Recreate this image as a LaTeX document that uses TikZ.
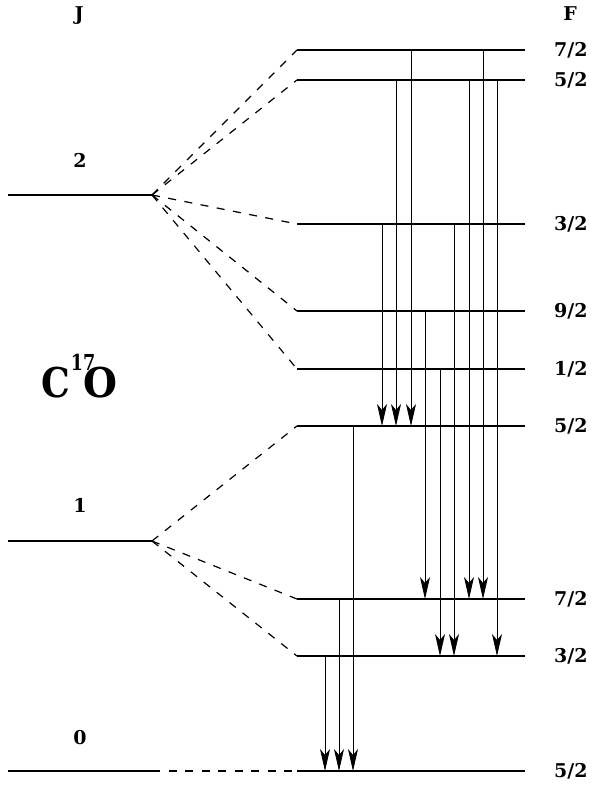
\documentclass[tikz,border=0pt]{standalone}
\usepackage{fontspec}
\setmainfont{DejaVu Serif}
\usetikzlibrary{arrows.meta}
\begin{document}
\begin{tikzpicture}[x=1pt,y=-1pt,
  level/.style={line width=2.5pt},
  conn/.style={line width=1.2pt,dash pattern=on 8pt off 8.5pt},
  trans/.style={line width=0.8pt,-{Stealth[length=22pt,width=10pt,inset=6pt]}},
  lab/.style={font=\fontsize{19}{22}\selectfont\bfseries,inner sep=0pt},
  flab/.style={lab,anchor=west},
  mol/.style={inner sep=0pt,anchor=base west}]
\useasboundingbox (0,0) rectangle (592,785);
% left J levels
\coordinate (j2a) at (8,195);  \coordinate (j2) at (152,195);
\coordinate (j1a) at (8,541);  \coordinate (j1) at (152,541);
\coordinate (j0a) at (8,771);  \coordinate (j0) at (152,771);
% right F levels
\foreach \n/\y in {u72/50,u52/80,u32/224,u92/311,u12/369,m52/426,m72/599,m32/656,l52/771}{
  \coordinate (\n) at (297,\y);
  \coordinate (\n e) at (525,\y);
}
\foreach \a in {j2,j1,j0}{\draw[level] (\a a) -- (\a);}
\foreach \n in {u72,u52,u32,u92,u12,m52,m72,m32,l52}{\draw[level] (\n) -- (\n e);}
% dashed correlation lines
\foreach \n in {u72,u52,u32,u92,u12}{\draw[conn] (j2) -- (\n);}
\foreach \n in {m52,m72,m32}{\draw[conn] (j1) -- (\n);}
\draw[conn] (j0) -- (l52);
% transitions
\foreach \x/\a/\b in {411/u72/m52, 483/u72/m72, 396/u52/m52, 469/u52/m72, 497/u52/m32,
  382/u32/m52, 454/u32/m32, 425/u92/m72, 440/u12/m32, 353/m52/l52, 339/m72/l52, 325/m32/l52}{
  \draw[trans] (\x,0 |- \a) -- (\x,0 |- \b);
}
% labels
\node[lab] (J) at (79,16) {J};
\node[lab] (F) at (570,14) {F};
\node[lab] (n2) at (80,160) {2};
\node[lab] (n1) at (80,505) {1};
\node[lab] (n0) at (80,738) {0};
\foreach \n/\t in {u72/7\slash 2,u52/5\slash 2,u32/3\slash 2,u92/9\slash 2,u12/1\slash 2,m52/5\slash 2,m72/7\slash 2,m32/3\slash 2,l52/5\slash 2}{
  \node[flab] at ([xshift=29pt]\n e) {\t};
}
\node[mol] (mol) at (41,397) {\fontsize{41}{41}\selectfont\bfseries
  \scalebox{0.88}[1]{C}\kern1pt\raisebox{27pt}{\scalebox{0.8}[1]{\fontsize{22}{22}\selectfont 17}}\kern-12pt\scalebox{0.95}[1]{O}};
\end{tikzpicture}
\end{document}
